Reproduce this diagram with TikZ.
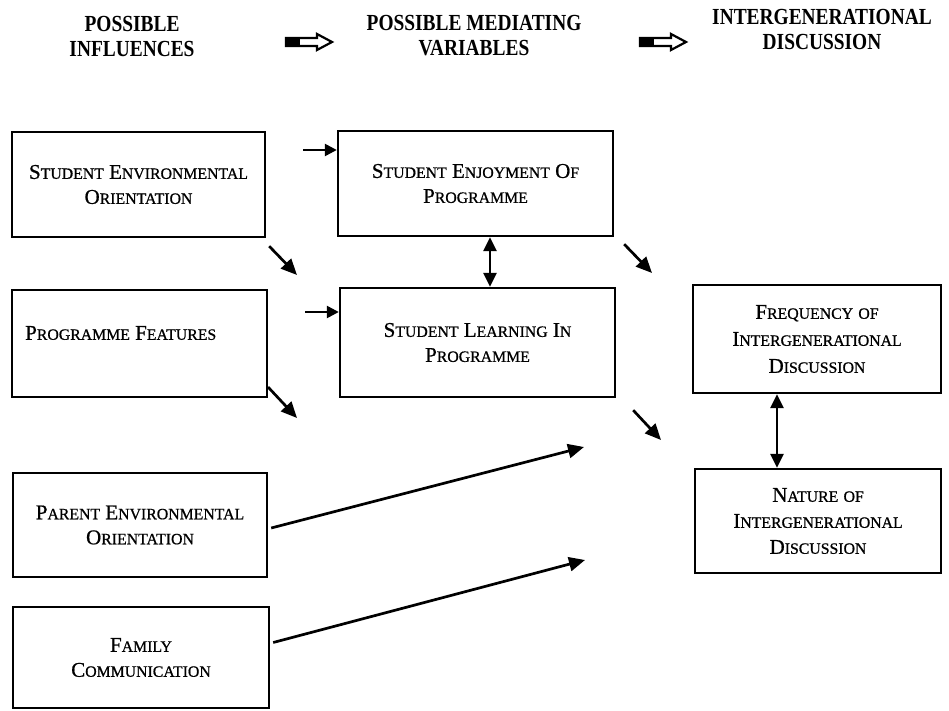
\documentclass[tikz,border=0pt]{standalone}
\usepackage{fontspec}
\usepackage{graphicx}
\newfontfamily\hdrfont{Liberation Serif}
\newfontfamily\boxfont[FakeBold=0.8]{Liberation Serif}
\newcommand\Sc[2]{#1{\fontsize{15.8}{25}\selectfont #2}}
\newcommand\Hs[1]{\scalebox{0.97}[1.15]{#1}}
\usetikzlibrary{arrows.meta,calc}
\begin{document}
\begin{tikzpicture}[x=1pt,y=-1pt,
 box/.style={draw, line width=2.4pt, inner sep=0pt, align=center, font=\boxfont\fontsize{21}{25}\selectfont},
 hdr/.style={align=center, inner sep=0pt, font=\hdrfont\bfseries\fontsize{20}{25}\selectfont},
 arr/.style={line width=2.7pt, -{Triangle[length=16pt,width=14pt]}},
 sarr/.style={line width=2.5pt, -{Triangle[length=12pt,width=12pt]}},
 dbl/.style={line width=2.7pt, {Triangle[length=14pt,width=13pt]}-{Triangle[length=14pt,width=13pt]}},
 harrow/.style={fill=white, line width=2.2pt},
]
\useasboundingbox (0,0) rectangle (949,711);

% headers
\node[hdr] (h1) at (132,37) {\Hs{POSSIBLE}\\\Hs{INFLUENCES}};
\node[hdr] (h2) at (474,36) {\Hs{POSSIBLE MEDIATING}\\\Hs{VARIABLES}};
\node[hdr] (h3) at (822,30) {\Hs{INTERGENERATIONAL}\\\Hs{DISCUSSION}};

\coordinate (a1) at (286,42);
\coordinate (a2) at (640,42);
\foreach \c in {a1,a2}{
 \begin{scope}[shift={(\c)}]
  \filldraw[harrow] (0,-4) -- (31,-4) -- (31,-8) -- (46,0) -- (31,8) -- (31,4) -- (0,4) -- cycle;
  \fill (0,-4) rectangle (14,4);
 \end{scope}
}

% boxes
\node[box, minimum width=253pt, minimum height=105pt] (seo) at (138.5,184.5) {\Sc{S}{TUDENT} \Sc{E}{NVIRONMENTAL}\\\Sc{O}{RIENTATION}};
\node[box, minimum width=255pt, minimum height=107pt] (pf) at (139.5,343.5) {};
\node[anchor=west, inner sep=0pt, font=\boxfont\fontsize{21}{25}\selectfont] (pft) at (25,333) {\Sc{P}{ROGRAMME} \Sc{F}{EATURES}};
\node[box, minimum width=254pt, minimum height=104pt] (par) at (140,525) {\Sc{P}{ARENT} \Sc{E}{NVIRONMENTAL}\\\Sc{O}{RIENTATION}};
\node[box, minimum width=256pt, minimum height=101pt] (fam) at (141,657.5) {\Sc{F}{AMILY}\\\Sc{C}{OMMUNICATION}};

\node[box, minimum width=275pt, minimum height=105pt] (enj) at (475.5,183.5) {\Sc{S}{TUDENT} \Sc{E}{NJOYMENT} \Sc{O}{F}\\\Sc{P}{ROGRAMME}};
\node[box, minimum width=275pt, minimum height=109pt] (lrn) at (477.5,342.5) {\Sc{S}{TUDENT} \Sc{L}{EARNING} \Sc{I}{N}\\\Sc{P}{ROGRAMME}};

\node[box, minimum width=248pt, minimum height=108pt, font=\boxfont\fontsize{21}{27}\selectfont] (frq) at (817,339) {\Sc{F}{REQUENCY} \Sc{}{OF}\\\Sc{I}{NTERGENERATIONAL}\\\Sc{D}{ISCUSSION}};
\node[box, minimum width=246pt, minimum height=104pt, font=\boxfont\fontsize{21}{26}\selectfont] (nat) at (818,521) {\Sc{N}{ATURE} \Sc{}{OF}\\\Sc{I}{NTERGENERATIONAL}\\\Sc{D}{ISCUSSION}};

% short horizontal arrows
\coordinate (s1) at (303,150);
\coordinate (s2) at (305,312);
\draw[sarr] (s1) -- (s1 -| enj.west);
\draw[sarr] (s2) -- (s2 -| lrn.west);

% diagonal arrows
\coordinate (d1e) at (297,275);
\coordinate (d2s) at (268,387);
\coordinate (d2e) at (297,418);
\coordinate (d3e) at (652,273);
\coordinate (d4e) at (661,440);
\coordinate (pe) at (584,447);
\coordinate (fe) at (585,560);
\draw[arr] ($(seo.south east)+(3,8)$) -- (d1e);
\draw[arr] (d2s) -- (d2e);
\draw[arr] ($(enj.south east)+(10,7)$) -- (d3e);
\draw[arr] ($(lrn.south east)+(17,12)$) -- (d4e);
\draw[arr] ($(par.east)+(3,3)$) -- (pe);
\draw[arr] ($(fam.east)+(3,-15)$) -- (fe);

% double arrows
\coordinate (x1) at (490,0);
\coordinate (x2) at (777,0);
\draw[dbl] (enj.south -| x1) -- (lrn.north -| x1);
\draw[dbl] (frq.south -| x2) -- (nat.north -| x2);
\end{tikzpicture}
\end{document}
